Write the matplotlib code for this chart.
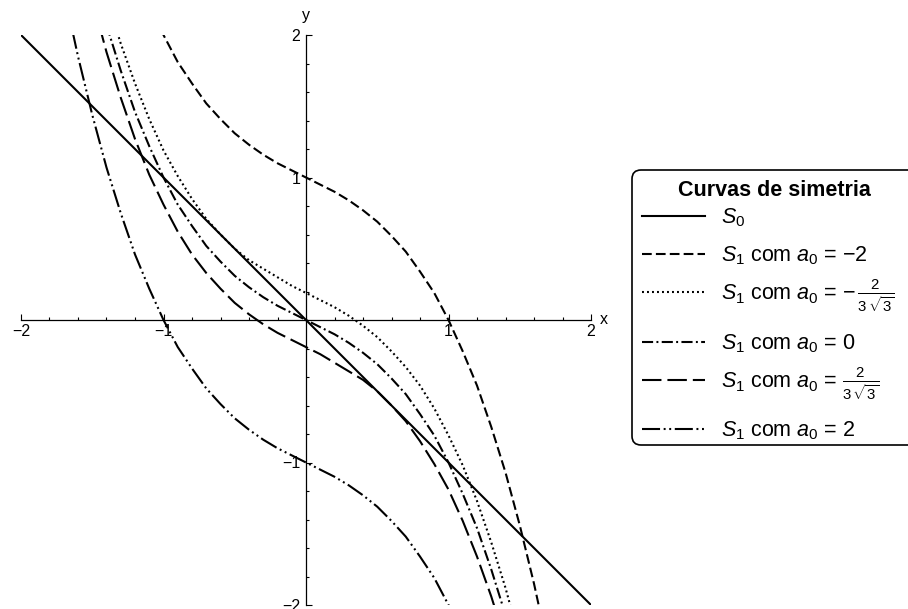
import matplotlib
matplotlib.use("Agg")
import matplotlib.pyplot as plt, numpy as np
from matplotlib.ticker import MultipleLocator
from matplotlib.patches import FancyBboxPatch

plt.rcParams["font.family"] = ["Liberation Sans", "DejaVu Sans"]
plt.rcParams["mathtext.fontset"] = "custom"
plt.rcParams["mathtext.rm"] = "Liberation Sans"
plt.rcParams["mathtext.it"] = "Liberation Sans:italic"
plt.rcParams["mathtext.bf"] = "Liberation Sans:bold"
plt.rcParams["lines.scale_dashes"] = False


def grid(lo, hi):
    # x positions where the curves were read, every 0.1
    return np.round(np.arange(lo, hi + 0.05, 0.1), 1)


# S0: straight line
s0_x = [-2, 2]
s0_y = [2, -2]

# S1 curves, values
x_m2 = grid(-1.1, 1.7)
y_m2 = [2.22, 2.00, 1.81, 1.66, 1.52, 1.41, 1.31, 1.23, 1.16, 1.10, 1.05, 1.00, 0.95, 0.90, 0.84,
        0.77, 0.69, 0.59, 0.48, 0.34, 0.19, 0.00, -0.22, -0.46, -0.75, -1.07, -1.44, -1.85, -2.31]

x_mf = grid(-1.4, 1.5)
y_mf = [2.26, 1.94, 1.66, 1.41, 1.19, 1.01, 0.85, 0.71, 0.60, 0.50, 0.42, 0.36, 0.30, 0.24, 0.19,
        0.14, 0.09, 0.03, -0.04, -0.12, -0.22, -0.33, -0.46, -0.62, -0.81, -1.02, -1.27, -1.56, -1.88, -2.25]

x_0 = grid(-1.4, 1.4)
y_0 = [2.07, 1.75, 1.46, 1.22, 1.00, 0.81, 0.66, 0.52, 0.41, 0.31, 0.23, 0.16, 0.10, 0.05, 0.00,
       -0.05, -0.10, -0.16, -0.23, -0.31, -0.41, -0.52, -0.66, -0.81, -1.00, -1.22, -1.46, -1.75, -2.07]

x_pf = grid(-1.5, 1.4)
y_pf = [2.25, 1.88, 1.56, 1.27, 1.02, 0.81, 0.62, 0.46, 0.33, 0.22, 0.12, 0.04, -0.03, -0.09, -0.14,
        -0.19, -0.24, -0.30, -0.36, -0.42, -0.50, -0.60, -0.71, -0.85, -1.01, -1.19, -1.41, -1.66, -1.94, -2.26]

x_p2 = grid(-1.7, 1.1)
y_p2 = [2.31, 1.85, 1.44, 1.07, 0.75, 0.46, 0.22, 0.00, -0.19, -0.34, -0.48, -0.59, -0.69, -0.77, -0.84,
        -0.90, -0.95, -1.00, -1.05, -1.10, -1.16, -1.23, -1.31, -1.41, -1.52, -1.66, -1.81, -2.00, -2.22]

labels = [r"$S_0$",
          r"$S_1$ com $a_0$ = −2",
          r"$S_1$ com $a_0$ = $-\,\frac{2}{3\,\sqrt{3}}$",
          r"$S_1$ com $a_0$ = 0",
          r"$S_1$ com $a_0$ = $\frac{2}{3\,\sqrt{3}}$",
          r"$S_1$ com $a_0$ = 2"]
xticks = [-2, -1, 1, 2]
xticklabels = ["−2", "−1", "1", "2"]

styles = ["-",
          (0, (7, 3)),
          (0, (1.4, 2.2)),
          (0, (8, 2.4, 1.4, 2.4)),
          (0, (14, 4.3)),
          (0, (13, 2.6, 1.4, 2.6, 1.4, 2.6))]
series = [(s0_x, s0_y), (x_m2, y_m2), (x_mf, y_mf), (x_0, y_0), (x_pf, y_pf), (x_p2, y_p2)]

fig = plt.figure(figsize=(9.08, 6.09), dpi=100)
ax = fig.add_axes([21 / 908, 4 / 609, 570 / 908, 570 / 609])
for (xs, ys), ls in zip(series, styles):
    ax.plot(xs, ys, color="black", lw=1.5, linestyle=ls, dash_capstyle="butt")

ax.set_xlim(-2, 2)
ax.set_ylim(-2, 2)
for side in ["top", "right"]:
    ax.spines[side].set_visible(False)
for side in ["left", "bottom"]:
    ax.spines[side].set_position(("data", 0))
    ax.spines[side].set_linewidth(0.9)
ax.set_xticks(xticks)
ax.set_xticklabels(xticklabels)
ax.set_yticks(xticks)
ax.set_yticklabels(xticklabels)
ax.xaxis.set_minor_locator(MultipleLocator(0.2))
ax.yaxis.set_minor_locator(MultipleLocator(0.2))
ax.tick_params(which="major", direction="in", length=4.3, width=0.8, labelsize=11.5)
ax.tick_params(axis="x", which="major", pad=3)
ax.tick_params(axis="y", which="major", pad=4)
ax.tick_params(which="minor", direction="in", length=2.5, width=0.8)
ax.patch.set_visible(False)
ax.text(2.06, 0, "x", ha="left", va="center", fontsize=11.5, clip_on=False)
ax.text(0, 2.105, "y", ha="center", va="baseline", fontsize=11.5, clip_on=False)

# legend drawn by hand, in pixel coordinates
lax = fig.add_axes([0, 0, 1, 1])
lax.set_xlim(0, 908)
lax.set_ylim(609, 0)
lax.axis("off")
lax.add_patch(FancyBboxPatch((632, 170), 300, 275, boxstyle="round,pad=0,rounding_size=9",
                             fc="white", ec="black", lw=1.2))
lax.text(774, 196, "Curvas de simetria", ha="center", va="baseline", fontsize=15.5, fontweight="bold")
line_y = [216, 254, 292, 342, 380, 429]
for lbl, ls, yy in zip(labels, styles, line_y):
    lax.plot([642, 705], [yy, yy], color="black", lw=1.5, linestyle=ls, dash_capstyle="butt")
    lax.text(721, yy + 7.5, lbl, ha="left", va="baseline", fontsize=15.5)

fig.savefig("out.png", dpi=100)
